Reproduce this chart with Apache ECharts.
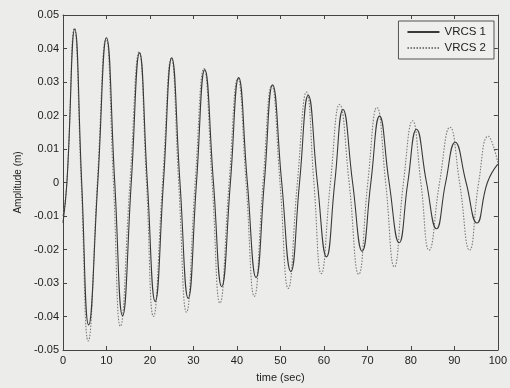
<!DOCTYPE html>
<html>
<head>
<meta charset="utf-8">
<script src="https://cdn.jsdelivr.net/npm/echarts@6/dist/echarts.min.js"></script>
<style>
  html, body { margin: 0; padding: 0; background: #ececeb; }
  #chart { width: 510px; height: 388px; }
</style>
</head>
<body>
<div id="chart"></div>
<script>
// VRCS 1 (solid) - time (sec) and amplitude (m), read at peaks / troughs / crossings
const time1 = [0, 0.9, 2.7, 4.3, 5.9, 8.0, 10.0, 11.9, 13.7, 15.7, 17.6, 19.4, 21.2, 23.1, 25.0, 26.9,
  28.8, 30.7, 32.6, 34.6, 36.5, 38.5, 40.4, 42.4, 44.4, 46.3, 48.2, 50.3, 52.4, 54.4, 56.4, 58.5,
  60.6, 62.5, 64.4, 66.6, 68.8, 70.8, 72.8, 75.0, 77.3, 79.3, 81.3, 83.6, 85.9, 88.0, 90.2, 92.7,
  95.2, 97.6, 100];
const vrcs1 = [-0.012, 0, 0.0458, 0, -0.0425, 0, 0.0432, 0, -0.0398, 0, 0.0387, 0, -0.0355, 0, 0.0372, 0,
  -0.0346, 0, 0.0337, 0, -0.0311, 0, 0.0313, 0, -0.0284, 0, 0.0292, 0, -0.0266, 0, 0.026, 0,
  -0.0222, 0, 0.0218, 0, -0.0205, 0, 0.0198, 0, -0.018, 0, 0.0159, 0, -0.0138, 0, 0.012, 0,
  -0.0121, 0, 0.0055];

// VRCS 2 (dotted)
const time2 = [0, 0.9, 2.6, 4.2, 5.8, 7.9, 9.9, 11.6, 13.2, 15.4, 17.5, 19.2, 20.8, 22.9, 24.9, 26.6,
  28.4, 30.4, 32.4, 34.3, 36.1, 38.2, 40.2, 42.1, 44.0, 46.0, 48.0, 49.9, 51.8, 53.9, 56.0, 57.7,
  59.4, 61.5, 63.6, 65.8, 68.0, 70.1, 72.2, 74.2, 76.2, 78.3, 80.4, 82.3, 84.2, 86.6, 89.0, 91.2,
  93.5, 95.6, 97.8, 100];
const vrcs2 = [-0.01, 0, 0.046, 0, -0.0473, 0, 0.043, 0, -0.0429, 0, 0.039, 0, -0.040, 0, 0.037, 0,
  -0.0387, 0, 0.034, 0, -0.036, 0, 0.031, 0, -0.034, 0, 0.029, 0, -0.0316, 0, 0.027, 0,
  -0.0272, 0, 0.0233, 0, -0.0274, 0, 0.0224, 0, -0.0252, 0, 0.0184, 0, -0.0202, 0, 0.0165, 0,
  -0.0202, 0, 0.0138, 0.006];

const seriesNames = ['VRCS 1', 'VRCS 2'];

const chart = echarts.init(document.getElementById('chart'));
const font = 'Liberation Sans, Arial, sans-serif';
const axisColor = '#444';

const tickAxis = {
  axisLine: { show: true, onZero: false, lineStyle: { color: axisColor, width: 1 } },
  axisTick: { show: true, inside: true, length: 4, lineStyle: { color: axisColor } },
  splitLine: { show: false },
};

chart.setOption({
  backgroundColor: '#ececeb',
  animation: false,
  grid: { left: 63, right: 9, top: 15, bottom: 36 },
  legend: {
    data: seriesNames,
    orient: 'vertical',
    right: 16,
    top: 21,
    itemWidth: 32,
    itemHeight: 8,
    itemGap: 4,
    padding: [5, 8, 5, 8],
    borderColor: '#555',
    borderWidth: 1,
    borderRadius: 0,
    backgroundColor: '#efefee',
    itemStyle: { opacity: 0 },
    textStyle: { fontFamily: font, fontSize: 11.5, color: '#222' },
  },
  xAxis: [
    {
      type: 'value', min: 0, max: 100, interval: 10,
      name: 'time (sec)', nameLocation: 'middle', nameGap: 22,
      nameTextStyle: { fontFamily: font, fontSize: 11, color: '#222' },
      axisLabel: { fontFamily: font, fontSize: 11, color: '#222', margin: 5 },
      ...tickAxis,
    },
    {
      type: 'value', min: 0, max: 100, interval: 10, position: 'top',
      axisLabel: { show: false },
      ...tickAxis,
    },
  ],
  yAxis: [
    {
      type: 'value', min: -0.05, max: 0.05, interval: 0.01,
      name: 'Amplitude (m)', nameLocation: 'middle', nameGap: 40,
      nameTextStyle: { fontFamily: font, fontSize: 10, color: '#222' },
      axisLabel: {
        fontFamily: font, fontSize: 11, color: '#222', margin: 4,
        formatter: v => String(Number(v.toFixed(2))),
      },
      ...tickAxis,
    },
    {
      type: 'value', min: -0.05, max: 0.05, interval: 0.01, position: 'right',
      axisLabel: { show: false },
      ...tickAxis,
    },
  ],
  series: [
    {
      name: seriesNames[0],
      type: 'line',
      data: time1.map((t, i) => [t, vrcs1[i]]),
      smooth: 0.5,
      symbol: 'none',
      lineStyle: { color: '#3a3a3a', width: 1.1, type: 'solid' },
      itemStyle: { color: '#3a3a3a' },
      z: 3,
    },
    {
      name: seriesNames[1],
      type: 'line',
      data: time2.map((t, i) => [t, vrcs2[i]]),
      smooth: 0.5,
      symbol: 'none',
      lineStyle: { color: '#7a7a7a', width: 1.1, type: [1.5, 1.5] },
      itemStyle: { color: '#7a7a7a' },
      z: 2,
    },
  ],
});
</script>
</body>
</html>
